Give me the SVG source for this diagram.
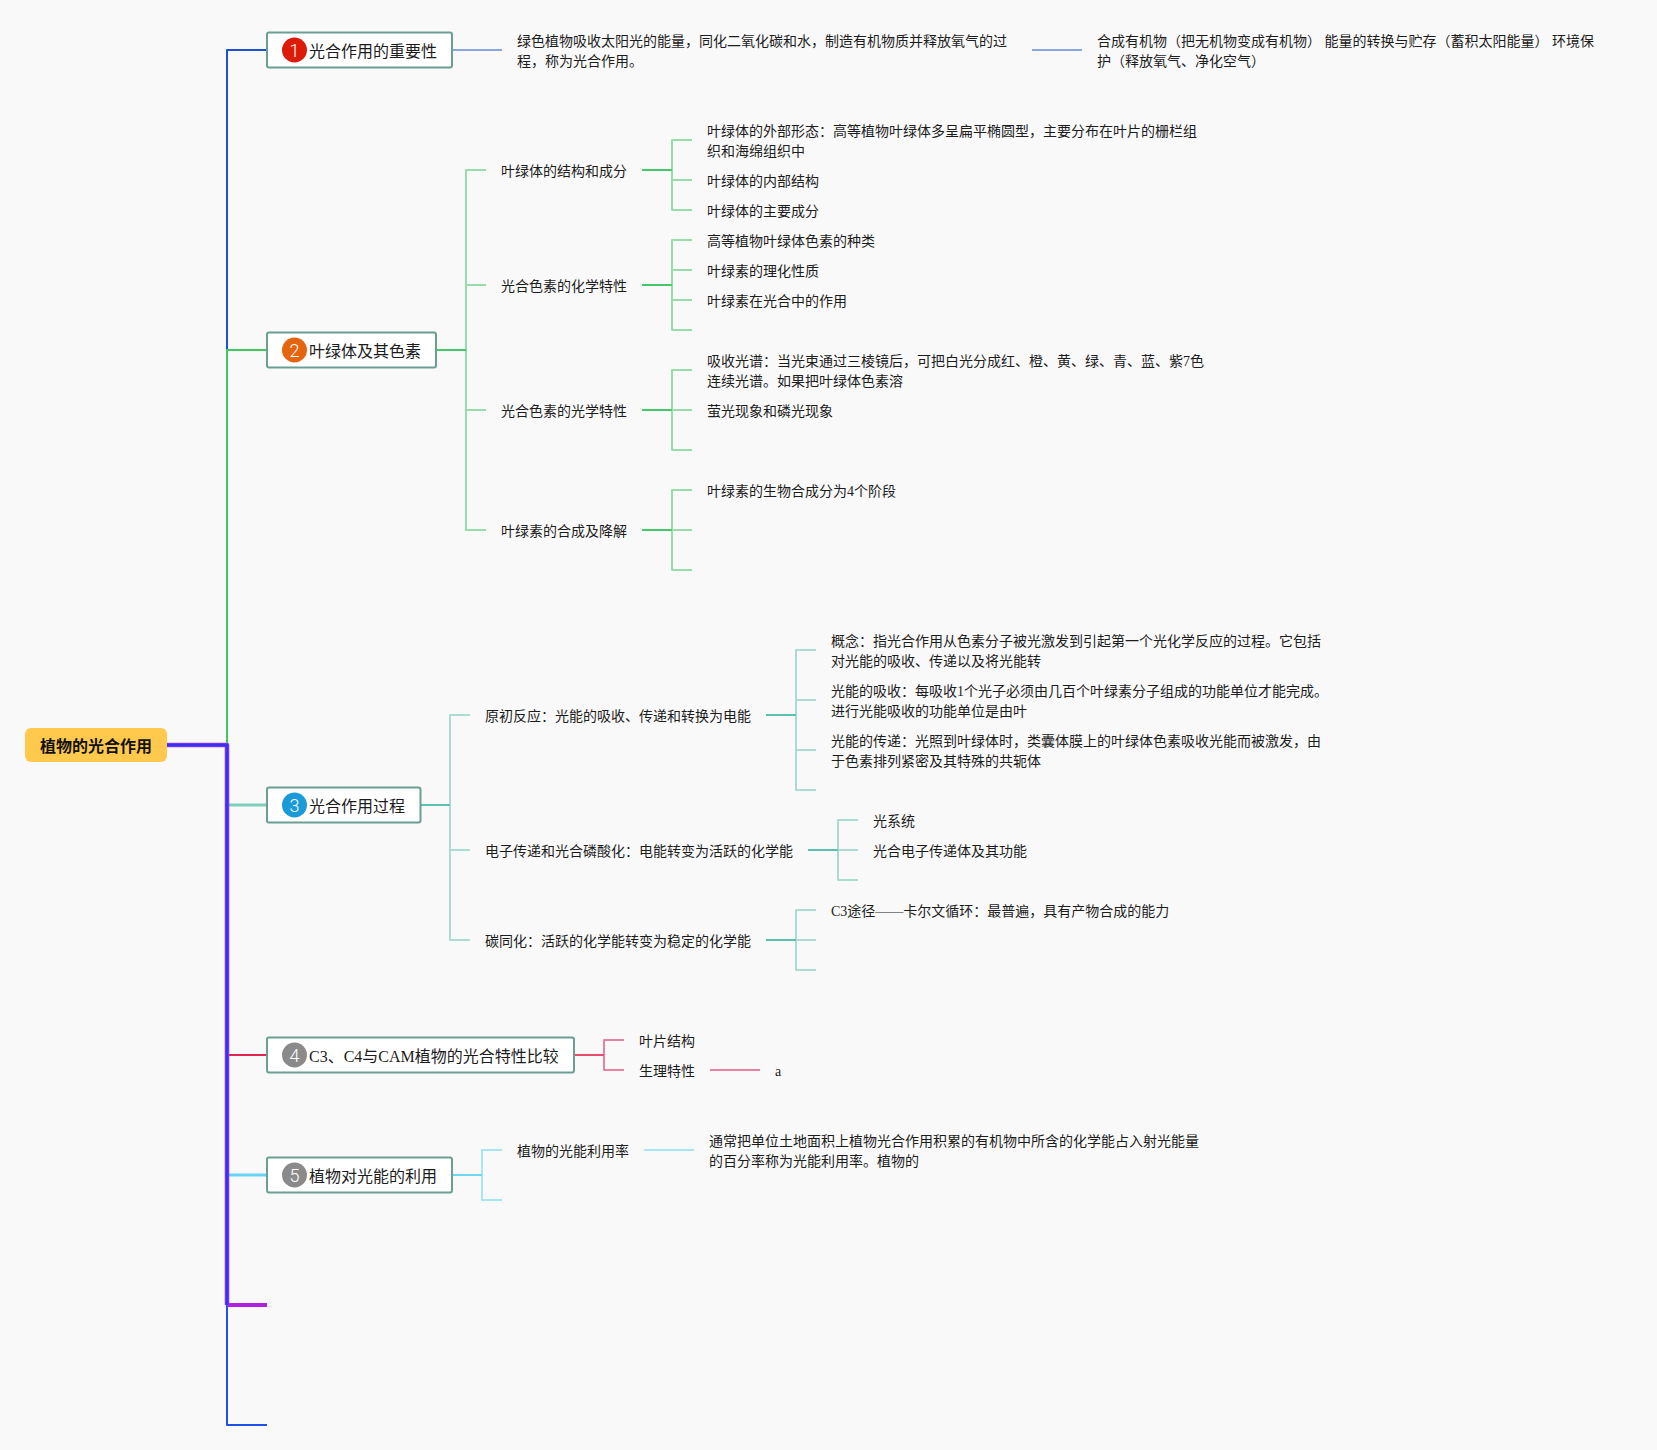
<svg xmlns="http://www.w3.org/2000/svg" width="1657" height="1450" viewBox="0 0 1657 1450">
<style>
text{font-family:"Liberation Serif","Noto Sans CJK SC",serif;fill:#1c1c1c}
.t{font-size:14px}
.h{font-size:16px}
.root{font-family:"Noto Sans CJK SC",sans-serif;font-size:16px;font-weight:700;fill:#111}
.box{fill:#fff;stroke:#6a9f94;stroke-width:2}
.num{font-family:Roboto,"Liberation Sans",sans-serif;font-weight:300;font-size:18px;fill:#fff;text-anchor:middle}
path{fill:none;stroke-linejoin:round}
.g1{stroke:#45c868;stroke-width:2}
.g2{stroke:#45c868;stroke-width:2;stroke-opacity:.55}
.b1{stroke:#3f6fc8;stroke-width:2;stroke-opacity:.6}
.c1{stroke:#5cc0ae;stroke-width:2}
.c2{stroke:#5cc0ae;stroke-width:2;stroke-opacity:.5}
.r1{stroke:#e64d6f;stroke-width:2}
.r2{stroke:#e0507a;stroke-width:2;stroke-opacity:.7}
.s1{stroke:#6fd6f2;stroke-width:2}
.s2{stroke:#6fd6f2;stroke-width:2;stroke-opacity:.6}
</style>
<rect width="1657" height="1450" fill="#f9f9f9"/>
<g id="connectors">
<path d="M227 350V50H267" stroke="#1f50d0" stroke-width="2"/>
<path d="M227 745V350H267" stroke="#44c75f" stroke-width="2"/>
<path d="M227 805H267" stroke="#7ccdb9" stroke-width="3"/>
<path d="M227 1055H267" stroke="#e0254e" stroke-width="2"/>
<path d="M227 1175H267" stroke="#68d3f5" stroke-width="3"/>
<path d="M227 1305V1425H267" stroke="#1f50e8" stroke-width="2"/>
<path d="M227 1305H267" stroke="#b020e0" stroke-width="4"/>
<path d="M167 745H227V1305" stroke="#a044f5" stroke-width="4.600"/>
<path d="M167 745H227V1305" stroke="#3d2ff0" stroke-width="3"/>
<path class="b1" d="M453 50H502M1032 50H1082"/>
<path class="g1" d="M436 350H466"/>
<path class="g2" d="M466 350V170H486M466 350V285H486M466 350V410H486M466 350V530H486"/>
<path class="g1" d="M642 170H672M642 285H672M642 410H672M642 530H672"/>
<path class="g2" d="M672 170V140H692M672 170V180H692M672 170V210H692"/>
<path class="g2" d="M672 285V240H692M672 285V270H692M672 285V300H692M672 285V330H692"/>
<path class="g2" d="M672 410V370H692M672 410H692M672 410V450H692"/>
<path class="g2" d="M672 530V490H692M672 530H692M672 530V570H692"/>
<path class="c1" d="M421 805H450"/>
<path class="c2" d="M450 805V715H470M450 805V850H470M450 805V940H470"/>
<path class="c1" d="M766 715H796M808 850H838M766 940H796"/>
<path class="c2" d="M796 715V650H816M796 715V700H816M796 715V750H816M796 715V790H816"/>
<path class="c2" d="M838 850V820H858M838 850H858M838 850V880H858"/>
<path class="c2" d="M796 940V910H816M796 940H816M796 940V970H816"/>
<path class="r1" d="M574 1055H604"/>
<path class="r2" d="M604 1055V1040H624M604 1055V1070H624M710 1070H760"/>
<path class="s1" d="M452 1175H482"/>
<path class="s2" d="M482 1175V1150H502M482 1175V1200H502M644 1150H694"/>
</g>
<g id="root"><rect x="25" y="728" width="142" height="34" rx="6" fill="#ffc94d"/><text class="root" x="40" y="752">植物的光合作用</text></g>
<g id="topic-1"><rect class="box" x="267" y="32.500" width="185" height="35" rx="2"/><circle cx="294.500" cy="50" r="12.500" fill="#dc1c08"/><text class="num" x="294.500" y="56.500">1</text><text class="h" x="309" y="57">光合作用的重要性</text></g>
<g id="topic-2"><rect class="box" x="267" y="332.500" width="169" height="35" rx="2"/><circle cx="294.500" cy="350" r="12.500" fill="#e5650f"/><text class="num" x="294.500" y="356.500">2</text><text class="h" x="309" y="357">叶绿体及其色素</text></g>
<g id="topic-3"><rect class="box" x="267" y="787.500" width="153.500" height="35" rx="2"/><circle cx="294.500" cy="805" r="12.500" fill="#1a9ad9"/><text class="num" x="294.500" y="811.500">3</text><text class="h" x="309" y="812">光合作用过程</text></g>
<g id="topic-4"><rect class="box" x="267" y="1037.500" width="307" height="35" rx="2"/><circle cx="294.500" cy="1055" r="12.500" fill="#8a8a8a"/><text class="num" x="294.500" y="1061.500">4</text><text class="h" x="309" y="1062">C3、C4与CAM植物的光合特性比较</text></g>
<g id="topic-5"><rect class="box" x="267" y="1157.500" width="185" height="35" rx="2"/><circle cx="294.500" cy="1175" r="12.500" fill="#8a8a8a"/><text class="num" x="294.500" y="1181.500">5</text><text class="h" x="309" y="1182">植物对光能的利用</text></g>
<g id="n1a"><text class="t" x="517" y="46">绿色植物吸收太阳光的能量，同化二氧化碳和水，制造有机物质并释放氧气的过</text><text class="t" x="517" y="66">程，称为光合作用。</text></g>
<g id="n1b"><text class="t" x="1097" y="46" xml:space="preserve">合成有机物（把无机物变成有机物） 能量的转换与贮存（蓄积太阳能量） 环境保</text><text class="t" x="1097" y="66">护（释放氧气、净化空气）</text></g>
<g id="n2a"><text class="t" x="501" y="176">叶绿体的结构和成分</text></g>
<g id="n2a1"><text class="t" x="707" y="136">叶绿体的外部形态：高等植物叶绿体多呈扁平椭圆型，主要分布在叶片的栅栏组</text><text class="t" x="707" y="156">织和海绵组织中</text></g>
<g id="n2a2"><text class="t" x="707" y="186">叶绿体的内部结构</text></g>
<g id="n2a3"><text class="t" x="707" y="216">叶绿体的主要成分</text></g>
<g id="n2b"><text class="t" x="501" y="291">光合色素的化学特性</text></g>
<g id="n2b1"><text class="t" x="707" y="246">高等植物叶绿体色素的种类</text></g>
<g id="n2b2"><text class="t" x="707" y="276">叶绿素的理化性质</text></g>
<g id="n2b3"><text class="t" x="707" y="306">叶绿素在光合中的作用</text></g>
<g id="n2c"><text class="t" x="501" y="416">光合色素的光学特性</text></g>
<g id="n2c1"><text class="t" x="707" y="366">吸收光谱：当光束通过三棱镜后，可把白光分成红、橙、黄、绿、青、蓝、紫7色</text><text class="t" x="707" y="386">连续光谱。如果把叶绿体色素溶</text></g>
<g id="n2c2"><text class="t" x="707" y="416">萤光现象和磷光现象</text></g>
<g id="n2d"><text class="t" x="501" y="536">叶绿素的合成及降解</text></g>
<g id="n2d1"><text class="t" x="707" y="496">叶绿素的生物合成分为4个阶段</text></g>
<g id="n3a"><text class="t" x="485" y="721">原初反应：光能的吸收、传递和转换为电能</text></g>
<g id="n3a1"><text class="t" x="831" y="646">概念：指光合作用从色素分子被光激发到引起第一个光化学反应的过程。它包括</text><text class="t" x="831" y="666">对光能的吸收、传递以及将光能转</text></g>
<g id="n3a2"><text class="t" x="831" y="696">光能的吸收：每吸收1个光子必须由几百个叶绿素分子组成的功能单位才能完成。</text><text class="t" x="831" y="716">进行光能吸收的功能单位是由叶</text></g>
<g id="n3a3"><text class="t" x="831" y="746">光能的传递：光照到叶绿体时，类囊体膜上的叶绿体色素吸收光能而被激发，由</text><text class="t" x="831" y="766">于色素排列紧密及其特殊的共轭体</text></g>
<g id="n3b"><text class="t" x="485" y="856">电子传递和光合磷酸化：电能转变为活跃的化学能</text></g>
<g id="n3b1"><text class="t" x="873" y="826">光系统</text></g>
<g id="n3b2"><text class="t" x="873" y="856">光合电子传递体及其功能</text></g>
<g id="n3c"><text class="t" x="485" y="946">碳同化：活跃的化学能转变为稳定的化学能</text></g>
<g id="n3c1"><text class="t" x="831" y="916">C3途径——卡尔文循环：最普遍，具有产物合成的能力</text></g>
<g id="n4a"><text class="t" x="639" y="1046">叶片结构</text></g>
<g id="n4b"><text class="t" x="639" y="1076">生理特性</text></g>
<g id="n4b1"><text class="t" x="775" y="1076">a</text></g>
<g id="n5a"><text class="t" x="517" y="1156">植物的光能利用率</text></g>
<g id="n5a1"><text class="t" x="709" y="1146">通常把单位土地面积上植物光合作用积累的有机物中所含的化学能占入射光能量</text><text class="t" x="709" y="1166">的百分率称为光能利用率。植物的</text></g>
</svg>
